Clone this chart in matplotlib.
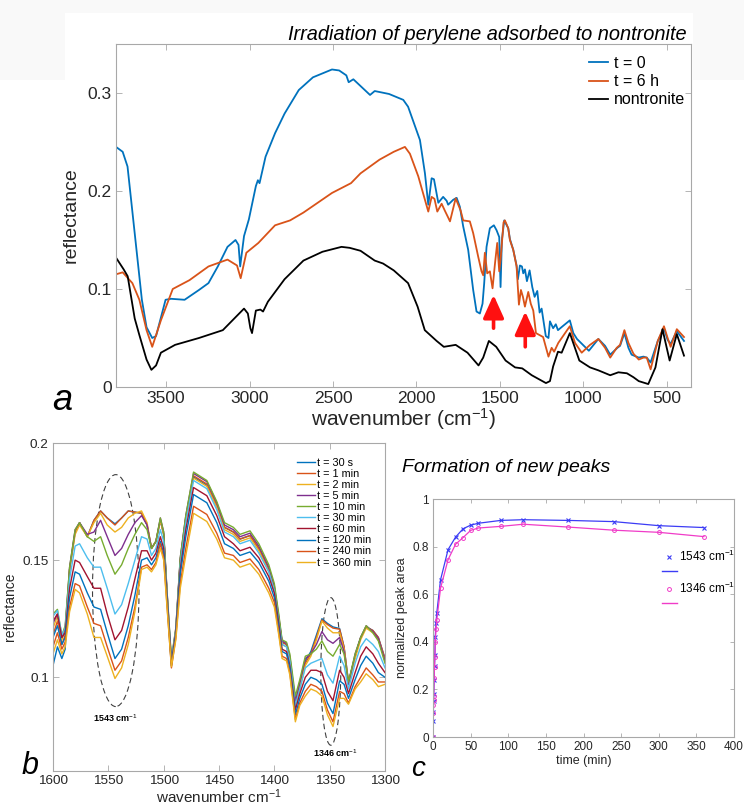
import matplotlib
matplotlib.use('Agg')
import matplotlib.pyplot as plt
from matplotlib.patches import Ellipse, Rectangle
from matplotlib.lines import Line2D

plt.rcParams['font.family'] = ['Liberation Sans', 'DejaVu Sans']
plt.rcParams['mathtext.fontset'] = 'custom'
plt.rcParams['mathtext.rm'] = 'Liberation Sans'
plt.rcParams['mathtext.it'] = 'Liberation Sans:italic'

# ---- panel a : full spectra ----
wn_t0 = [3800, 3760, 3731, 3688, 3645, 3617, 3583, 3560, 3503, 3470, 3389, 3303, 3246, 3190,
         3132, 3084, 3066, 3056, 3033, 3004, 2962, 2950, 2940, 2904, 2847, 2790, 2705, 2620,
         2506, 2463, 2420, 2406, 2378, 2278, 2250, 2221, 2164, 2079, 2050, 1979, 1949, 1929,
         1909, 1895, 1869, 1840, 1819, 1810, 1780, 1759, 1740, 1720, 1690, 1660, 1640, 1620,
         1604, 1594, 1580, 1560, 1536, 1520, 1504, 1496, 1488, 1474, 1450, 1440, 1420, 1400,
         1392, 1380, 1368, 1360, 1350, 1338, 1322, 1306, 1292, 1276, 1262, 1250, 1225, 1209,
         1200, 1181, 1165, 1152, 1124, 1081, 1060, 1038, 967, 910, 870, 839, 796, 780, 754,
         730, 711, 668, 640, 620, 597, 554, 517, 495, 477, 440, 397]
r_t0 = [0.245, 0.240, 0.225, 0.157, 0.089, 0.061, 0.050, 0.052, 0.089, 0.090, 0.089, 0.099, 0.106, 0.123,
        0.143, 0.150, 0.145, 0.123, 0.154, 0.171, 0.205, 0.211, 0.208, 0.235, 0.259, 0.279, 0.303, 0.316,
        0.324, 0.323, 0.318, 0.311, 0.314, 0.298, 0.302, 0.301, 0.299, 0.293, 0.286, 0.252, 0.218, 0.186,
        0.213, 0.212, 0.188, 0.194, 0.190, 0.186, 0.191, 0.193, 0.184, 0.164, 0.140, 0.099, 0.077, 0.075,
        0.085, 0.106, 0.143, 0.162, 0.165, 0.160, 0.153, 0.102, 0.150, 0.170, 0.162, 0.151, 0.140, 0.124,
        0.110, 0.124, 0.123, 0.116, 0.120, 0.108, 0.119, 0.102, 0.092, 0.098, 0.076, 0.080, 0.052, 0.050,
        0.067, 0.060, 0.064, 0.058, 0.062, 0.068, 0.055, 0.049, 0.037, 0.049, 0.042, 0.033, 0.040, 0.042, 0.055,
        0.040, 0.033, 0.030, 0.031, 0.030, 0.025, 0.047, 0.060, 0.048, 0.044, 0.057, 0.047]

wn_t6 = [3800, 3760, 3702, 3660, 3617, 3583, 3531, 3460, 3360, 3246, 3132, 3075, 3053, 3019,
         2947, 2847, 2757, 2677, 2506, 2392, 2335, 2221, 2136, 2069, 2039, 1989, 1949, 1929,
         1909, 1892, 1875, 1849, 1830, 1810, 1799, 1765, 1735, 1720, 1680, 1660, 1630, 1610,
         1600, 1590, 1576, 1560, 1544, 1530, 1516, 1504, 1496, 1478, 1470, 1450, 1440, 1420,
         1400, 1386, 1374, 1362, 1350, 1330, 1315, 1300, 1284, 1241, 1209, 1190, 1175, 1150,
         1081, 1050, 1010, 960, 910, 870, 839, 800, 780, 754, 730, 700, 668, 640, 620, 597,
         554, 517, 495, 477, 440, 397]
r_t6 = [0.115, 0.117, 0.106, 0.089, 0.058, 0.041, 0.068, 0.100, 0.109, 0.123, 0.130, 0.124, 0.111, 0.137,
        0.147, 0.165, 0.170, 0.178, 0.198, 0.208, 0.218, 0.232, 0.240, 0.245, 0.238, 0.215, 0.191, 0.179,
        0.194, 0.192, 0.179, 0.187, 0.180, 0.173, 0.169, 0.1925, 0.180, 0.170, 0.169, 0.157, 0.133, 0.118,
        0.114, 0.137, 0.116, 0.118, 0.1007, 0.125, 0.147, 0.118, 0.130, 0.168, 0.170, 0.162, 0.150, 0.140,
        0.123, 0.084, 0.099, 0.092, 0.082, 0.097, 0.085, 0.078, 0.055, 0.051, 0.031, 0.040, 0.036, 0.045,
        0.062, 0.045, 0.035, 0.043, 0.049, 0.040, 0.030, 0.040, 0.043, 0.058, 0.045, 0.034, 0.028, 0.030, 0.030, 0.018,
        0.047, 0.062, 0.050, 0.041, 0.059, 0.051]

wn_nontr = [3800, 3754, 3730, 3688, 3660, 3617, 3588, 3560, 3531, 3446, 3303, 3160, 3033, 3010,
            2995, 2985, 2970, 2962, 2935, 2919, 2890, 2790, 2677, 2563, 2449, 2400, 2335, 2250,
            2200, 2136, 2050, 1993, 1950, 1879, 1836, 1800, 1765, 1694, 1628, 1600, 1566, 1522,
            1466, 1409, 1366, 1309, 1224, 1200, 1181, 1152, 1130, 1081, 1024, 960, 910, 839, 790,
            739, 700, 668, 611, 568, 526, 483, 440, 397]
r_nontr = [0.132, 0.120, 0.113, 0.070, 0.053, 0.028, 0.0175, 0.022, 0.035, 0.043, 0.050, 0.058, 0.080, 0.075,
           0.060, 0.055, 0.070, 0.078, 0.079, 0.077, 0.087, 0.110, 0.129, 0.138, 0.143, 0.142, 0.139, 0.129,
           0.126, 0.119, 0.106, 0.082, 0.058, 0.047, 0.041, 0.042, 0.043, 0.035, 0.022, 0.030, 0.047, 0.041,
           0.027, 0.020, 0.019, 0.012, 0.004, 0.006, 0.021, 0.036, 0.035, 0.055, 0.027, 0.020, 0.017, 0.012, 0.015,
           0.014, 0.010, 0.006, 0.003, 0.020, 0.059, 0.027, 0.054, 0.032]

arrow_wn = [1538, 1348]
arrow_tail = [0.060, 0.041]
arrow_head = [0.094, 0.077]

# ---- panel b : time series of spectra ----
wn_b = [1600, 1596, 1592, 1589, 1585, 1580, 1576, 1569, 1563, 1557, 1551, 1544, 1538, 1532, 1526,
        1520, 1515, 1511, 1507, 1503, 1500, 1497, 1493, 1489, 1485, 1480, 1473, 1461, 1452, 1445,
        1437, 1431, 1422, 1414, 1405, 1400, 1396, 1393, 1389, 1386, 1381, 1377, 1372, 1367, 1362,
        1357, 1352, 1347, 1341, 1337, 1333, 1327, 1322, 1317, 1311, 1306, 1300]

b_30s = [0.105, 0.113, 0.108, 0.112,
         0.146, 0.162, 0.166, 0.160, 0.167, 0.171, 0.168, 0.1655, 0.168, 0.171, 0.1705, 0.170, 0.165, 0.155, 0.158, 0.167, 0.161, 0.136, 0.106, 0.120, 0.150, 0.168,
         0.1855, 0.182, 0.173, 0.164, 0.162, 0.159, 0.1605, 0.155, 0.146, 0.138, 0.125, 0.115, 0.114, 0.108, 0.089, 0.097,
         0.107, 0.111, 0.118, 0.125, 0.123, 0.1215, 0.1208, 0.113, 0.098, 0.109, 0.117, 0.1215, 0.120, 0.117, 0.108]
b_1min = [0.118, 0.124, 0.114, 0.118,
          0.146, 0.162, 0.166, 0.160, 0.167, 0.171, 0.168, 0.165, 0.168, 0.171, 0.1705, 0.170, 0.165, 0.155, 0.158, 0.167, 0.161, 0.136, 0.106, 0.120, 0.150, 0.168,
          0.186, 0.1825, 0.1735, 0.164, 0.162, 0.159, 0.1605, 0.155, 0.146, 0.138, 0.125, 0.115, 0.114, 0.108, 0.088, 0.096,
          0.106, 0.110, 0.117, 0.1245, 0.1225, 0.121, 0.1205, 0.113, 0.098, 0.109, 0.117, 0.1215, 0.120, 0.117, 0.108]
b_2min = [0.121, 0.126, 0.116, 0.120,
          0.146, 0.161, 0.165, 0.160, 0.166, 0.170, 0.165, 0.162, 0.164, 0.168, 0.170, 0.171, 0.166, 0.155, 0.158, 0.167, 0.161, 0.135, 0.105, 0.119, 0.149, 0.167,
          0.185, 0.1815, 0.1725, 0.163, 0.161, 0.158, 0.1595, 0.154, 0.145, 0.138, 0.125, 0.114, 0.113, 0.107, 0.087, 0.095,
          0.105, 0.109, 0.116, 0.124, 0.121, 0.119, 0.119, 0.112, 0.097, 0.108, 0.116, 0.121, 0.119, 0.116, 0.107]
b_5min = [0.123, 0.127, 0.117, 0.121,
          0.147, 0.163, 0.166, 0.161, 0.162, 0.167, 0.160, 0.152, 0.155, 0.161, 0.166, 0.169, 0.165, 0.155, 0.158, 0.168, 0.162, 0.137, 0.107, 0.121, 0.151, 0.169,
          0.187, 0.1835, 0.1745, 0.165, 0.163, 0.160, 0.1615, 0.156, 0.147, 0.139, 0.126, 0.1155, 0.1145, 0.109, 0.090, 0.098,
          0.108, 0.110, 0.114, 0.1195, 0.116, 0.1145, 0.117, 0.111, 0.097, 0.110, 0.117, 0.122, 0.1195, 0.1165, 0.107]
b_10min = [0.127, 0.129, 0.118, 0.122,
           0.147, 0.163, 0.166, 0.160, 0.158, 0.160, 0.152, 0.144, 0.148, 0.155, 0.161, 0.166, 0.163, 0.155, 0.158, 0.168, 0.162, 0.137, 0.108, 0.121, 0.151, 0.169,
           0.1876, 0.184, 0.175, 0.166, 0.164, 0.161, 0.1625, 0.157, 0.148, 0.140, 0.127, 0.116, 0.115, 0.110, 0.092, 0.099,
           0.109, 0.110, 0.112, 0.1155, 0.111, 0.109, 0.114, 0.110, 0.098, 0.110, 0.117, 0.122, 0.119, 0.1155, 0.106]
b_30min = [0.126, 0.1285, 0.118, 0.121,
           0.142, 0.156, 0.157, 0.151, 0.147, 0.147, 0.138, 0.127, 0.131, 0.140, 0.150, 0.160, 0.159, 0.152, 0.155, 0.163, 0.158, 0.135, 0.107, 0.120, 0.148, 0.166,
           0.184, 0.1805, 0.1715, 0.162, 0.160, 0.157, 0.1585, 0.153, 0.145, 0.137, 0.124, 0.114, 0.113, 0.107, 0.088, 0.095,
           0.104, 0.106, 0.107, 0.108, 0.101, 0.0975, 0.109, 0.105, 0.095, 0.106, 0.113, 0.1165, 0.114, 0.111, 0.104]
b_60min = [0.124, 0.127, 0.117, 0.119,
           0.138, 0.150, 0.149, 0.143, 0.138, 0.138, 0.127, 0.116, 0.120, 0.130, 0.142, 0.154, 0.154, 0.150, 0.153, 0.160, 0.155, 0.134, 0.106, 0.119, 0.146, 0.163,
           0.181, 0.1775, 0.169, 0.160, 0.157, 0.154, 0.1555, 0.151, 0.143, 0.136, 0.123, 0.112, 0.111, 0.105, 0.086, 0.093,
           0.100, 0.103, 0.103, 0.102, 0.094, 0.090, 0.103, 0.100, 0.093, 0.102, 0.109, 0.113, 0.110, 0.106, 0.102]
b_120min = [0.117, 0.122, 0.114, 0.117,
            0.134, 0.145, 0.144, 0.136, 0.130, 0.129, 0.119, 0.108, 0.112, 0.122, 0.135, 0.150, 0.151, 0.148, 0.151, 0.158, 0.153, 0.133, 0.105, 0.118, 0.144, 0.160,
            0.178, 0.1745, 0.166, 0.157, 0.155, 0.152, 0.1535, 0.149, 0.141, 0.134, 0.121, 0.111, 0.110, 0.104, 0.084, 0.091,
            0.097, 0.100, 0.099, 0.097, 0.089, 0.0845, 0.0985, 0.097, 0.091, 0.099, 0.105, 0.109, 0.106, 0.102, 0.100]
b_240min = [0.113, 0.119, 0.112, 0.115,
            0.130, 0.140, 0.139, 0.130, 0.123, 0.122, 0.113, 0.103, 0.107, 0.117, 0.130, 0.147, 0.148, 0.146, 0.149, 0.157, 0.151, 0.131, 0.104, 0.117, 0.140, 0.155,
            0.173, 0.1695, 0.1615, 0.153, 0.152, 0.149, 0.1505, 0.146, 0.138, 0.132, 0.119, 0.109, 0.108, 0.102, 0.082, 0.089,
            0.094, 0.097, 0.096, 0.094, 0.086, 0.081, 0.094, 0.093, 0.089, 0.096, 0.100, 0.104, 0.101, 0.098, 0.098]
b_360min = [0.110, 0.116, 0.110, 0.113,
            0.128, 0.1375, 0.136, 0.127, 0.117, 0.117, 0.109, 0.0995, 0.104, 0.114, 0.128, 0.146, 0.147, 0.145, 0.148, 0.155, 0.150, 0.130, 0.1045, 0.116, 0.138, 0.152,
            0.170, 0.1665, 0.159, 0.151, 0.150, 0.147, 0.1485, 0.144, 0.136, 0.130, 0.118, 0.108, 0.107, 0.101, 0.081, 0.088,
            0.092, 0.095, 0.094, 0.092, 0.084, 0.079, 0.091, 0.091, 0.0885, 0.095, 0.098, 0.1015, 0.099, 0.096, 0.097]

labels_b = ['t = 30 s', 't = 1 min', 't = 2 min', 't = 5 min', 't = 10 min', 't = 30 min',
            't = 60 min', 't = 120 min', 't = 240 min', 't = 360 min']
series_b = [b_30s, b_1min, b_2min, b_5min, b_10min, b_30min, b_60min, b_120min, b_240min, b_360min]

# ---- panel c : peak area vs time ----
t_min = [0, 0.25, 0.5, 0.75, 1, 1.5, 2, 2.5, 3, 4, 5, 10, 20, 30, 40, 50, 60, 90, 120, 180, 240, 300, 360]
area_1543 = [0, 0.067, 0.106, 0.15, 0.18, 0.24, 0.30, 0.343, 0.42, 0.48, 0.52, 0.66, 0.787, 0.84, 0.875,
             0.89, 0.898, 0.91, 0.913, 0.910, 0.905, 0.888, 0.88]
area_1346 = [0, 0.10, 0.134, 0.155, 0.172, 0.247, 0.295, 0.336, 0.40, 0.453, 0.49, 0.625, 0.745, 0.81, 0.838,
             0.868, 0.878, 0.885, 0.894, 0.882, 0.869, 0.860, 0.842]

MATLAB = ['#0072BD', '#D95319', '#EDB120', '#7E2F8E', '#77AC30', '#4DBEEE', '#A2142F']
SPINE = '#A8A8A8'
TXT = '#262626'


def matlab_box(ax, size):
    for s in ax.spines.values():
        s.set_color(SPINE)
        s.set_linewidth(0.8)
    ax.tick_params(direction='in', top=True, right=True, length=4, width=0.6,
                   color=SPINE, labelcolor=TXT, labelsize=size, pad=3)


fig = plt.figure(figsize=(7.44, 8.05), dpi=100)

# faint grey band at the very top of the original figure
fig.patches.append(Rectangle((0, 1 - 80 / 805), 1, 80 / 805, transform=fig.transFigure,
                             facecolor='#F9F9F9', edgecolor='none', zorder=-10))
fig.patches.append(Rectangle((65 / 744, 1 - 80 / 805), 628 / 744, 67 / 805, transform=fig.transFigure,
                             facecolor='white', edgecolor='none', zorder=-9))

# panel a
ax_a = fig.add_axes([116 / 744, 1 - 387 / 805, 575 / 744, 343 / 805])
ax_a.plot(wn_t0, r_t0, color=MATLAB[0], lw=1.3, label='t = 0')
ax_a.plot(wn_t6, r_t6, color=MATLAB[1], lw=1.3, label='t = 6 h')
ax_a.plot(wn_nontr, r_nontr, color='black', lw=1.3, label='nontronite')
for x, y0, y1 in zip(arrow_wn, arrow_tail, arrow_head):
    ax_a.annotate('', xy=(x, y1), xytext=(x, y0),
                  arrowprops=dict(arrowstyle='-|>,head_width=0.45,head_length=1.0',
                                  color='#FF1010', lw=2.6, mutation_scale=14, shrinkA=0, shrinkB=0))
ax_a.set_xlim(3800, 355)
ax_a.set_ylim(0, 0.35)
ax_a.set_xticks([3500, 3000, 2500, 2000, 1500, 1000, 500])
ax_a.set_yticks([0, 0.1, 0.2, 0.3])
ax_a.set_yticklabels(['0', '0.1', '0.2', '0.3'])
matlab_box(ax_a, 12.5)
ax_a.set_xlabel('wavenumber (cm$^{-1}$)', fontsize=15, color=TXT, labelpad=0)
ax_a.set_ylabel('reflectance', fontsize=14, color=TXT, labelpad=6)
ax_a.legend(loc='upper right', bbox_to_anchor=(0.99, 0.965), frameon=False,
            fontsize=11.5, handlelength=1.2, handletextpad=0.35,
            labelspacing=0.2, borderpad=0, borderaxespad=0)
fig.text(687 / 744, 1 - 35 / 805, 'Irradiation of perylene adsorbed to nontronite',
         ha='right', va='center', fontsize=14.4, style='italic', color='black')
fig.text(62 / 744, 1 - 400 / 805, 'a', fontsize=26, style='italic', ha='center', va='center')

# panel b
ax_b = fig.add_axes([53 / 744, 1 - 771 / 805, 332 / 744, 328 / 805])
for i, (vals, lab) in enumerate(zip(series_b, labels_b)):
    ax_b.plot(wn_b, vals, color=MATLAB[i % 7], lw=1.0, label=lab)
ax_b.add_patch(Ellipse((1543.3, 0.137), 42, 0.099, fill=False, ls=(0, (5, 3)), lw=0.8, ec='#404040'))
ax_b.add_patch(Ellipse((1349, 0.1025), 18, 0.063, fill=False, ls=(0, (5, 3)), lw=0.8, ec='#404040'))
ax_b.text(1544, 0.0826, '1543 cm$^{-1}$', fontsize=6.5, fontweight='bold', ha='center', va='center')
ax_b.text(1345, 0.0676, '1346 cm$^{-1}$', fontsize=6.5, fontweight='bold', ha='center', va='center')
ax_b.set_xlim(1600, 1300)
ax_b.set_ylim(0.06, 0.2)
ax_b.set_xticks([1600, 1550, 1500, 1450, 1400, 1350, 1300])
ax_b.set_yticks([0.1, 0.15, 0.2])
ax_b.set_yticklabels(['0.1', '0.15', '0.2'])
matlab_box(ax_b, 9.7)
ax_b.set_xlabel('wavenumber cm$^{-1}$', fontsize=11, color=TXT, labelpad=0)
ax_b.set_ylabel('reflectance', fontsize=10, color=TXT, labelpad=4)
ax_b.legend(loc='upper left', bbox_to_anchor=(0.735, 0.955), frameon=False, fontsize=7.8,
            handlelength=1.7, handletextpad=0.1, labelspacing=0.1, borderpad=0, borderaxespad=0)
fig.text(30 / 744, 1 - 766 / 805, 'b', fontsize=22, style='italic', ha='center', va='center')

# panel c
ax_c = fig.add_axes([433 / 744, 1 - 737 / 805, 301 / 744, 238 / 805])
blue_c = '#3C3CF5'
pink_c = '#F03CC8'
ax_c.plot(t_min, area_1543, color=blue_c, lw=0.9, marker='x', ms=2.5, mew=0.8)
ax_c.plot(t_min, area_1346, color=pink_c, lw=0.9, marker='o', ms=2.8, mew=0.7, mfc='none')
ax_c.set_xlim(0, 400)
ax_c.set_ylim(0, 1)
ax_c.set_xticks(range(0, 401, 50))
ax_c.set_yticks([0, 0.2, 0.4, 0.6, 0.8, 1])
ax_c.set_yticklabels(['0', '0.2', '0.4', '0.6', '0.8', '1'])
matlab_box(ax_c, 8.5)
ax_c.tick_params(length=3)
ax_c.set_xlabel('time (min)', fontsize=9, color=TXT, labelpad=1)
ax_c.set_ylabel('normalized peak area', fontsize=9, color=TXT, labelpad=3)
handles_c = [Line2D([], [], color=blue_c, marker='x', ls='none', ms=2.5, mew=0.8),
             Line2D([], [], color=blue_c, lw=1.0),
             Line2D([], [], color=pink_c, marker='o', ls='none', ms=2.8, mew=0.7, mfc='none'),
             Line2D([], [], color=pink_c, lw=1.0)]
ax_c.legend(handles_c, ['1543 cm$^{-1}$', ' ', '1346 cm$^{-1}$', ' '], loc='upper left',
            bbox_to_anchor=(0.762, 0.79), frameon=False, fontsize=8.5, handlelength=1.2,
            handletextpad=0.2, labelspacing=0.2, borderpad=0, borderaxespad=0)
fig.text(402 / 744, 1 - 467 / 805, 'Formation of new peaks', fontsize=14, style='italic',
         ha='left', va='center')
fig.text(418 / 744, 1 - 769 / 805, 'c', fontsize=20, style='italic', ha='center', va='center')

fig.savefig('out.png', dpi=100)
